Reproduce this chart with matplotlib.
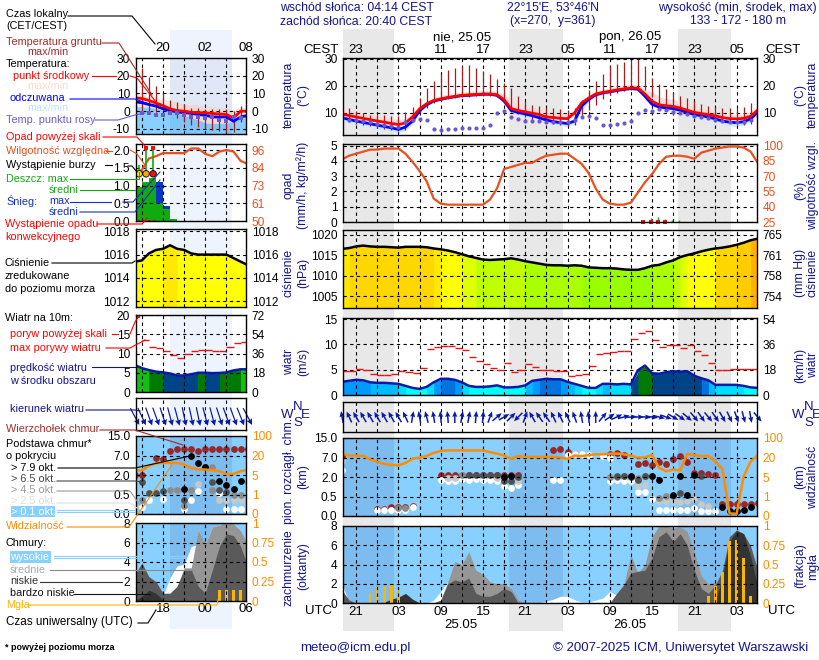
import numpy as np
import matplotlib
matplotlib.use('Agg')
import matplotlib.pyplot as plt
from matplotlib.lines import Line2D
from matplotlib.patches import Rectangle

plt.rcParams['font.family'] = ['Liberation Sans', 'DejaVu Sans']
plt.rcParams['font.size'] = 9

# hours UTC counted from 25.05 00:00
hours = list(range(-5, 55))
temp = [9.6,9,8.5,8,7.5,7,6.6,6.1,5.7,6.3,8.5,11.5,13.4,14.6,15.2,15.7,16.1,16.5,16.7,16.8,17,17,16.7,14.9,11.6,10.9,10.4,9.9,9.4,8.5,
        8.3,8,7.9,10,13.7,15.5,17,17.6,18,18.5,18.9,19.2,19.2,17,14.3,13,12.7,12.4,11.8,11,10.2,9.8,9.3,8.9,8.3,7.9,7.8,8,8.8,11]
appar = [8.2,7.6,7,6.5,6,5.5,5,4.5,3.9,4.8,7,10.8,13,14.4,15,15.6,16,16.4,16.5,16.7,16.9,16.9,16.5,14.4,10.9,10.2,9.6,9,8.2,7.4,
         6.8,6.4,6.1,7,12.5,15,16.7,17.4,17.8,18.3,18.7,19,18.8,16.2,13.2,12.2,11.9,11.6,11,10.2,9.4,9,8.5,7.8,7,6.6,6.4,6.8,7.8,10.4]
temp_hi = [11.5,11,10.5,10,9.5,9,8.6,8,7.6,8,10,12.6,14.2,15.5,16.5,17,17.4,17.7,18,18,18.3,18.3,18,17,15,13.2,12.6,12,11.4,10.6,
           10.3,10,9.6,11,14.5,16.5,18,18.7,19.2,19.8,20.2,20.4,20.4,18.7,17.8,16,15.4,15,14.3,13.5,12.6,11.8,11,10.4,9.8,9.4,9.4,9.7,10.5,12.5]
appar_lo = [6.8,6.2,5.6,5.1,4.6,4.1,3.6,3.1,2.5,3.4,6,10,12.5,14,14.8,15.3,15.7,16.1,16.2,16.4,16.6,16.6,16.2,13.5,10,9.4,8.6,8,7.2,6.4,
            5.8,5.4,5,5.8,11,14,16,16.8,17.2,17.7,18.2,18.5,18.2,15,12.5,11.4,11,10.6,9.8,8.8,8.2,7.6,7.2,6.6,5.8,5.2,5,5.5,6.8,9.6]
dew = [8,7.5,7.5,7,6.5,6,5.5,5,4.8,6.5,7.3,7.6,7.5,4.2,3.7,4,4.2,4.4,4.5,4.5,4.6,5.6,10,10.7,8.5,7.6,7,6.9,6.9,6.7,
       6.7,6.5,6.5,7.3,8.5,9,8.2,5.7,5.6,5.8,6.2,7.2,9.8,11,10.7,11.6,11,10.5,10,9.5,9,8.5,8,7.5,7,6.8,6.5,6.8,7.5,9]
ground_max = [11,12,10.6,10,9.4,9.2,9.1,8.9,8.8,10.4,12.2,15.5,19.1,21.8,24.4,25.9,26.7,27.3,27.7,26.5,25.6,24.3,22.4,21,19.1,16.3,14.3,13,12.7,12,
              12,11.5,11.2,12,14.9,18.5,21.8,24.4,27.3,28,29,29.5,29.8,27.5,22.8,20.7,18.9,17.3,16.3,15.5,14.5,13.4,12.7,12.2,11.8,11.8,11.8,12.2,13.7,11]
ground_min = [7,6.5,6,5.5,5,4.5,4,3.7,3.5,3.8,6.5,10,12,13.5,14.5,15,15.5,15.8,16,16.2,16.4,16.4,16,14,10.5,9.5,8.5,7.5,7,6.3,
              6,5.5,5,5.5,8,11,13,15,16.5,17.5,18,18.5,18.7,18.5,16,13,12,11.7,11.3,10.8,10,9,8.5,8,7,6.5,5.8,5.5,6,7.5]
humidity = [86.5,90,92,94,96,96,97,97,97,92,84,75,65,48,43,42,42,42,42,42,42,47,58,77,79,81,83,83,87,90,
            91,92,92,87,82,73,58,47,43,42,42,44,54,64,72,82,89,90,90,89,87,93,95,97,98,99,99,98,94,83]
pressure = [1016.5,1016.7,1017.1,1017.3,1017.1,1017,1017,1016.9,1016.8,1017,1017,1017,1016.9,1016.6,1016.4,1016.1,1015.7,1015.2,1014.7,1014.3,1013.9,1013.8,1013.9,1014,1014.2,1013.9,1013.5,1013.2,1012.9,1012.6,
            1012.5,1012.5,1012.4,1012.5,1012.4,1012,1011.9,1011.8,1011.8,1011.7,1011.5,1011.4,1011.4,1011.8,1012.4,1012.6,1013.2,1013.7,1014.5,1015,1015.4,1015.9,1016.3,1016.6,1016.8,1017.1,1017.5,1018,1018.6,1019]
wind = [2.6,2.8,3,2.9,2.5,2.4,2.4,2.3,2.2,1.8,1.4,1.2,1.6,2.5,3.2,3.2,3,2.5,1.8,1.6,1.6,1.7,1.9,1.5,1.5,1.6,1.9,2.8,3,3.2,
        3.1,3.1,2.6,2.2,1.8,1.4,1.4,2.2,2.2,2.1,2.2,2.1,4.9,5.8,4.3,4.2,4.5,4.7,4.6,4.7,3.8,3.3,2.9,2,2,2,2,1.8,1.5,1.4]
gust = [4.7,4.8,5.1,4.9,4.1,3.9,3.9,4.1,4.7,4.6,4.3,5.3,9.1,9.4,9.6,9.6,9.2,8.8,7.6,6.8,6.1,5.3,4.9,6.4,4.5,4.9,6.1,5.5,5,4.9,
        4.7,4.7,3.75,3.9,4.1,5.7,8,8.3,8.5,8.75,8.75,11,12.2,12.6,10.8,9.4,9.8,9.8,9.2,9.8,8.75,7.8,6.4,4.9,5,5.1,5.2,5.1,5.1,5.1]
wind_dir = [100,115,120,120,120,120,120,120,120,115,80,100,105,100,95,95,90,80,80,85,85,70,40,30,45,225,70,120,125,125,
            115,115,115,110,100,95,90,50,35,25,15,5,0,-5,-8,-15,-20,-30,-35,-40,-50,-55,-50,-55,-60,-65,-70,-75,-80,-50]
visibility = [36,28,28,26,18.5,16.7,15,14.3,14,15.8,19,20,26,39,47,49,49,49,49,49,49,42,36,28,19,26,22,22,22,22,
              22,20,19,28,26,30,33,33,36,36,33,28,20,20,31,12,9.4,10.7,10,35,30,26,26,17,11,.14,.1,5.5,17,28]
cloud_high = [2,0,0,0,0,0,0,0,0,0,0,0,0,.3,1.2,2.2,2.2,2,1.5,.8,.5,.5,.5,.5,.3,.1,0,0,0,.2,
              .4,.7,.7,.35,.1,.1,.3,.5,1.2,.8,0,0,0,0,0,0,.3,.5,.5,.3,.1,0,0,0,0,0,0,0,0,0]
cloud_mid = [1.4,0,0,0,0,0,0,0,0,0,0,0,0,0,.3,2.2,4.3,4,5.3,3.4,3,2.2,2,2,1.5,.3,0,0,0,0,
             0,0,0,0,0,0,0,0,0,1,1.9,5,3.1,4,6.9,8,8,7.8,7.9,7.4,5.2,2.8,2,2.2,0,0,0,0,0,0]
cloud_low = [1.3,.3,0,0,0,0,0,0,0,0,0,0,0,0,.3,2,2.4,2.2,2.6,1,.7,.7,1,1.5,1.2,0,0,0,0,0,
             0,0,0,0,0,0,0,0,0,1,1.9,3.1,3.3,3.4,4.7,6.9,7.4,6.4,7.2,6,3.4,1.5,1,1.9,3.4,6.9,7.6,7.2,5.9,3.4]
cloud_vlow = [0,0,0,0,0,0,.1,.4,.6,1,.4,0,0,0,0,0,0,0,0,0,0,0,0,0,0,0,0,0,0,0,
              0,0,0,0,0,0,0,0,0,0,0,0,0,0,0,0,0,0,0,0,0,0,0,0,2.8,6.4,7.5,7.2,4.8,1.7]
fog_hours = [-1,0,1,2,3,47,48,49,50,51,52,53]
fog = [.125,.21,.22,.24,.19,.086,.22,.4,.8,.82,.58,.086]

# cloud bases per layer (km), hour lists go with them
tops_h = [-5,0,1,2,3,4,5,9,10,11,12,13,14,15,16,17,18,19,20,25,26,27,28,33,34,35,37,38,39,40,41,42,43,44,45,46,47,48,49,50,51,52,53,54]
tops_km = [7.5,.17,.17,.22,.24,.24,.26,2.4,2.4,2.4,2.4,2.4,2.4,2.4,2.4,2.4,2.4,2.4,2.4,10,10.3,9.2,8.6,8.6,9,8,5.4,5.6,5.1,5.9,5.4,6.5,7.5,5.9,3,2.9,2.8,2.6,.31,.31,.31,.31,.31,.34]
white_h = [-5,0,1,2,3,4,5,9,10,11,12,13,14,15,16,17,18,19,20,25,26,27,28,29,30,32,33,33,34,35,36,37,38,39,40,41,42,43,44,45,46,47,48]
white_km = [3.9,.16,.16,.16,.16,.16,.22,1.79,1.66,1.66,1.85,1.79,1.85,1.79,1.79,1.66,1.28,1.15,1.4,1.79,1.79,8,8.3,8.6,8.2,7.5,7,1.66,1.79,1.66,1.66,.86,.86,.43,.16,.16,.16,.16,.16,.2,.14,.14,.13]
lgray_h = [-5,10,11,17,20,37,38,40,41,42,43,44,45,46,47]
lgray_km = [6,1.92,1.92,1.92,1.66,1.28,1.4,.39,.39,.39,.35,.39,.43,.31,.26]
gray_h = [3,4,12,37,38,40,41,42,33,34,35,44]
gray_km = [.2,.2,2.4,1.9,2.3,.45,.55,.55,2,2.1,2.2,.6]
dark_h = [13,14,15,16,17,18,19,20,34,35,36,37,38,43,46]
dark_km = [2.4,2.4,2.4,2.4,2.4,1.66,1.66,2,2.2,2.2,2.1,1.79,2.2,.8,2.3]
black_h = [18,19,36,39,40,42,43,44,45,49,50,51,52,53]
black_km = [2,2.15,2.2,2.15,1.79,.63,2.15,.6,2.4,.24,.14,.14,.15,.24]

# short panel on the left, hours before 25.05 00:00 are the day before... same counting
hours_l = list(range(-10, 7))
temp_l = [7.5,7.1,6,4.5,3.1,1.2,.3,-.1,-.7,-.9,-1,-1.4,-1.6,-2,-3.9,-.1,-.1]
appar_l = [5.2,4.7,3.7,2.8,1.4,.3,-.5,-1,-1.3,-2,-2.4,-3.3,-3.4,-3.3,-5.8,-3.4,-2.4]
hi_l = [10,9.5,8.5,7.5,6.6,5.8,5,4.3,3.7,3.3,2.8,2.4,2,1.6,1,1.8,2.5]
blue_top_l = [2.8,2.5,2.2,1.6,1,0,-1,-2.5,-3.8,-5,-6.8,-7,-7,-6.8,-6,-3.8,-2]
dew_l = [-1,-1,-1,-2.4,-2.4,-1,-1,-2.4,-3.3,-3.3,-3.8,-3.4,-4.8,-5.4,-3.4,-4.2,-4]
stem_h_l = list(range(-9, 6))
gmax_l = [24.3,19.3,14.2,10.4,6,5,3.7,1.8,1.5,1.3,1.3,1.3,.9,0,3]
gmin_l = [-1,-1,-.5,-.1,-1.3,-4,-6,-7.8,-8.8,-10,-10.5,-11.5,-12.5,-12,-6]
humidity_l = [80.7,83,90.5,92,94,94,94,94,97,97,93.5,92,95,96,95,89,87]
rain_h_l = [-10,-9,-8,-7,-6,-5]
rain_l = [.95,1.1,1.2,.5,.33,.05]
snow_l = [0,0,0,1.1,.43,0]
storm_t_l = [-9.4,-8.4,-7.4]
storm_col = ['#ffee00','#ffa500','#ee1111']
storm_max_l = [1.57,2.05,2.05]
pressure_l = [1015.4,1015.5,1016.1,1016.4,1016.5,1016.8,1016.5,1016.4,1016.1,1016,1016,1016,1016,1016,1015.7,1015.4,1015.1]
wind_l = [7,6.2,5.7,5.3,5.1,4.8,4.3,4.3,4.6,5,5,4.9,4.95,5.1,5.6,5.9,5.9]
gust_h_l = list(range(-9, 6))
gust_l = [13.5,11.7,11.5,10.6,9.65,8.8,9.8,10.7,10.9,10.9,10.6,10.6,11.7,12.8,13]
dir_l = [-62,-65,-70,-70,-72,-75,-75,-78,-78,-78,-75,-75,-72,-70,-70,-68,-62]
visibility_l = [8.6,8.6,12,14,14.3,14.3,14.3,13,10.4,9.2,9.2,8.6,7.9,5.8,5.8,7.9,9]
high_l = [0,0,0,0,.5,2.4,3.6,3.8,5.6,5.8,5.8,7.6,7.8,7.9,6.7,5.6,5.4]
mid_l = [0,0,0,0,0,.8,1.5,3.4,3.4,7.2,5.8,7.6,7.8,8,7.9,7.2,5.8]
low_l = [2.7,3.9,2.5,2,.8,.8,1.5,3.2,3.2,1.5,.8,3.2,5.6,6.9,6.7,5.6,3.6]
vlow_l = [0,.5,1.1,.8,.1,0,0,0,0,0,0,0,0,0,0,0,0]
fog_h_l = [2,3,4,5]
fog_l = [.146,.146,.146,.146]
tops_h_l = [-10,-9,-7,-6,-5,-4,-3,-2,-1,0,1,2,3,4,5,6]
tops_km_l = [2,2,6.4,6,8.8,9.7,9.7,9.7,8.8,9.7,9.7,9.7,9.7,9.7,9.7,9.7]
white_h_l = [-9,-8,-6,-3,-2,-1,2,3,4,5]
white_km_l = [.19,.35,.38,.12,.35,.75,.65,.13,.13,.13]
lgray_h_l = [-10,-1,2,3,4,5]
lgray_km_l = [.2,1.3,.35,.35,.35,.35]
gray_h_l = [-9,-5,-4,-3,-2,0,1,1,4,5,6]
gray_km_l = [.35,.85,.85,.2,.85,4,4,.85,.5,.5,1.5]
dark_h_l = [-9,-8,-7,-6,-3,1,2,3]
dark_km_l = [1.5,.65,.65,.75,.35,1.5,.85,.7]
black_h_l = [-3,-2,-1,0,2,3,4,5]
black_km_l = [.9,7,4.95,4,1.55,1.25,.9,1.55]

local_labels = ['23','05','11','17','23','05','11','17','23','05']
utc_labels = ['21','03','09','15','21','03','09','15','21','03']
label_hours = [-3,3,9,15,21,27,33,39,45,51]

NAVY = '#14148c'
ORANGE = '#ff8c00'
HUM = '#e8501e'
SKY = '#87d0ff'
SKY_DARK = '#7cbcee'
XLIM_M = (-4.87, 53.9)
XLIM_L = (-9.9, 5.77)
NIGHTS = [(-4.87, 2.37), (18.68, 26.34), (42.65, 50.17)]
BAND_L = (-5, 3.8)

fig = plt.figure(figsize=(8.2, 6.6), dpi=100)
W, H = 820.0, 660.0


def T(x, y, s, color='black', ha='left', size=7.8, rot=0, **kw):
    fig.text(x / W, 1 - y / H, s, color=color, ha=ha, va='center', fontsize=size, rotation=rot, **kw)


def L(xs, ys, color='black', lw=0.8):
    fig.add_artist(Line2D([x / W for x in xs], [1 - y / H for y in ys], color=color, lw=lw))


def R(x0, y0, x1, y1, color, z=-5):
    fig.add_artist(Rectangle((x0 / W, 1 - y1 / H), (x1 - x0) / W, (y1 - y0) / H, color=color, lw=0, zorder=z))


def panel(x0, y0, x1, y1, xlim, ylim, yticks, ylabels, rlabels, rcolor='black', gridx=None):
    ax = fig.add_axes([x0 / W, 1 - y1 / H, (x1 - x0) / W, (y1 - y0) / H])
    ax.patch.set_alpha(0)
    ax.set_xlim(xlim)
    ax.set_ylim(ylim)
    ax.set_xticks(gridx)
    ax.set_xticklabels([])
    ax.set_yticks(yticks)
    ax.set_yticklabels(ylabels)
    ax.tick_params(length=0, pad=4, labelsize=8.6)
    ax.grid(True, color='black', lw=0.8, ls=(0, (3, 3)))
    ax.set_axisbelow(False)
    for s in ax.spines.values():
        s.set_linewidth(1.0)
        s.set_zorder(6)
    ax2 = ax.twinx()
    ax2.set_ylim(ylim)
    ax2.set_yticks(yticks)
    ax2.set_yticklabels(rlabels, color=rcolor)
    ax2.tick_params(length=0, pad=4, labelsize=8.6)
    for s in ax2.spines.values():
        s.set_visible(False)
    return ax


def seg_fill(ax, t, v, colfn, base):
    # each hour gets its own colour, the small overlap closes pixel gaps
    for i in range(len(t) - 1):
        ax.fill_between([t[i], t[i + 1] + 0.2], [v[i], v[i + 1]], base, color=colfn((v[i] + v[i + 1]) / 2), lw=0, zorder=1, antialiased=False)


def press_color(p):
    for lim, c in [(1012.4, '#99ff00'), (1013.5, '#aaff00'), (1014.5, '#c0ff00'), (1015.0, '#e0ff00'),
                   (1016.5, '#ffff00'), (1016.7, '#ffe900'), (1017.5, '#ffd700'), (1018.5, '#ffcc00')]:
        if p < lim:
            return c
    return '#ffb000'


def wind_color(v):
    for lim, c in [(1.8, '#00ffff'), (2.2, '#00ddff'), (2.7, '#00bbff'), (3.0, '#0099ff'), (3.5, '#0073e0'),
                   (5.0, '#004488'), (5.9, '#007a00')]:
        if v < lim:
            return c
    return '#11c011'


def km_pos(v):
    return np.interp(v, [0, .5, 2, 7, 15], [0, 1, 2, 3, 4])


def vis_pos(v):
    return np.interp(v, [0, 1, 5, 20, 100], [0, 1, 2, 3, 4])


def draw_temp(ax, t, mid, ap, stem_t, smin, smax):
    ax.vlines(stem_t, smin, smax, color='#a81c1c', lw=0.9, zorder=2.6)
    ax.plot(t, ap, color='#0000ff', lw=2.0, zorder=3)
    ax.plot(t, mid, color='#ff0000', lw=2.0, zorder=3.2)


def draw_clouds(ax, t, high, mid, low, vlow):
    ax.fill_between(t, high, 0, color='white', lw=0, zorder=1.1)
    ax.fill_between(t, mid, 0, color='#969696', lw=0, zorder=1.2)
    ax.fill_between(t, low, 0, color='#5a5a5a', lw=0, zorder=1.3)
    ax.fill_between(t, vlow, 0, color='#333333', lw=0, zorder=1.4)


def draw_bases(ax, layers):
    for h, km, c, z in layers:
        ax.scatter(h, km_pos(km), s=24, color=c, lw=0, zorder=z, clip_on=True)


# page backgrounds
for a, b in NIGHTS:
    R(377.3 + 7.05 * a, 29, 377.3 + 7.05 * b, 631, '#e8e8e8')
R(205.3 + 7.05 * BAND_L[0], 30, 205.3 + 7.05 * BAND_L[1], 629, '#eef4fd')

gx_m = list(range(-3, 54, 3))
gx_l = list(range(-9, 6, 3))
t_m = np.array(hours)
t_l = np.array(hours_l)

# --- main column ---
ax = panel(343, 57.5, 757, 135, XLIM_M, (1.85, 30.5), [10, 20, 30], ['10', '20', '30'], ['10', '20', '30'], gridx=gx_m)
ax.fill_between(t_m, temp_hi, temp, color='#ffdcdc', lw=0, zorder=1)
ax.fill_between(t_m, appar, appar_lo, color='#cfeafc', lw=0, zorder=1)
draw_temp(ax, t_m, temp, appar, t_m, ground_min, ground_max)
ax.plot(t_m, dew, ls='', marker='o', ms=3, color='#6a5acd', mew=0, zorder=3.4)
for h, s in zip(label_hours, local_labels):
    ax.text(h, 1.02, s, transform=ax.get_xaxis_transform(), ha='center', va='bottom', fontsize=9.5)

ax = panel(343, 144, 757, 222, XLIM_M, (0, 5.1), [0, 1, 2, 3, 4, 5], list('012345'),
           ['25', '40', '55', '70', '85', '100'], rcolor=HUM, gridx=gx_m)
ax.plot(t_m, (np.array(humidity) - 25) / 15, color=HUM, lw=1.6, zorder=3)
ax.vlines([38.8, 39.8, 40.8, 41.8, 42.8], 0, [.25, .35, .2, .1, .1], color='#11aa11', lw=1, zorder=3)
ax.plot([37.7, 38.8, 39.8, 40.8], [.03, .03, .03, .03], ls='', marker='s', ms=3.2, color='#ee1111', mew=0, zorder=4, clip_on=False)

ax = panel(343, 230, 757, 308, XLIM_M, (1002.1, 1021.1), [1005, 1010, 1015, 1020], ['1005', '1010', '1015', '1020'],
           ['754', '758', '761', '765'], gridx=gx_m)
seg_fill(ax, t_m, pressure, press_color, 1000)
ax.plot(t_m, pressure, color='black', lw=1.8, zorder=3)

ax = panel(343, 318, 757, 395, XLIM_M, (0, 15.2), [0, 5, 10, 15], ['0', '5', '10', '15'], ['0', '18', '36', '54'], gridx=gx_m)
seg_fill(ax, t_m, wind, wind_color, 0)
ax.plot(t_m, wind, color='#0a1aa8', lw=1.8, zorder=3)
ax.hlines(gust, t_m, t_m + 1, color='#ee1111', lw=1, zorder=3)

ax = panel(343, 402, 757, 432, XLIM_M, (0, 1), [], [], [], gridx=gx_m)
rad = np.deg2rad(wind_dir)
ax.quiver(t_m, np.full(60, .5), 12 * np.cos(rad), 12 * np.sin(rad), angles='uv', scale_units='dots', scale=1, units='dots',
          width=1.5, headwidth=3.5, headlength=4, headaxislength=3.5, pivot='mid', color='#0a1aa8', zorder=4, clip_on=False)

ax = panel(343, 438, 757, 516, XLIM_M, (0, 4), [0, 1, 2, 3, 4], ['0.0', '0.5', '2.0', '7.0', '15.0'],
           ['0', '1', '5', '20', '100'], rcolor=ORANGE, gridx=gx_m)
ax.set_facecolor(SKY)
ax.patch.set_alpha(1)
for a, b in NIGHTS:
    ax.axvspan(a, b, color=SKY_DARK, lw=0, zorder=0.5)
draw_bases(ax, [(tops_h, tops_km, '#982828', 1.2), (white_h, white_km, 'white', 1.3), (lgray_h, lgray_km, '#c8c8c8', 1.4),
                (gray_h, gray_km, '#8c8c8c', 1.5), (dark_h, dark_km, '#505050', 1.6), (black_h, black_km, 'black', 1.7)])
ax.plot(t_m, vis_pos(visibility), color=ORANGE, lw=1.8, zorder=3)

ax = panel(343, 526, 757, 603, XLIM_M, (0, 8), [0, 2, 4, 6, 8], list('02468'), ['0', '0.25', '0.5', '0.75', '1'], rcolor=ORANGE, gridx=gx_m)
ax.set_facecolor(SKY)
ax.patch.set_alpha(1)
for a, b in NIGHTS:
    ax.axvspan(a, b, color=SKY_DARK, lw=0, zorder=0.5)
draw_clouds(ax, t_m, cloud_high, cloud_mid, cloud_low, cloud_vlow)
ax.bar(fog_hours, np.array(fog) * 8, width=0.33, color='#ffb400', zorder=2)
for h, s in zip(label_hours, utc_labels):
    ax.text(h, -0.04, s, transform=ax.get_xaxis_transform(), ha='center', va='top', fontsize=9.5)

# --- left column ---
ax = panel(135.5, 57.5, 246, 134, XLIM_L, (-13, 30.3), [-10, 0, 10, 20, 30], ['-10', '0', '10', '20', '30'],
           ['-10', '0', '10', '20', '30'], gridx=gx_l)
ax.fill_between(t_l, hi_l, -13, color='#fde6da', lw=0, zorder=1)
ax.fill_between(t_l, blue_top_l, -13, color=SKY, lw=0, zorder=1.1)
ax.axvspan(BAND_L[0], BAND_L[1], color='#2a3c9c', alpha=0.07, lw=0, zorder=1.2)
draw_temp(ax, t_l, temp_l, appar_l, stem_h_l, gmin_l, gmax_l)
ax.plot(t_l, dew_l, ls='', marker='s', ms=3.2, color='#6a5acd', mew=0, zorder=3.4)
for h, s in zip([-6, 0, 6], ['20', '02', '08']):
    ax.text(min(h, 5.77), 1.04, s, transform=ax.get_xaxis_transform(), ha='center', va='bottom', fontsize=9.5)

ax = panel(135.5, 144, 246, 221, XLIM_L, (0, 2.17), [0, .5, 1, 1.5, 2], ['0.0', '0.5', '1.0', '1.5', '2.0'],
           ['50', '61', '73', '84', '96'], rcolor=HUM, gridx=gx_l)
ax.bar(rain_h_l, snow_l, width=1, align='edge', color='#0a35c8', zorder=1)
ax.bar(rain_h_l, rain_l, width=1, align='edge', color='#11aa11', zorder=1.1)
ax.plot(t_l, (np.array(humidity_l) - 50) / 23, color=HUM, lw=1.6, zorder=3)
ax.vlines(storm_t_l, 1.33, storm_max_l, color='#11aa11', lw=1.2, zorder=3)
ax.scatter(storm_t_l, [1.33, 1.33, 1.33], s=22, c=storm_col, edgecolors='black', linewidths=0.6, zorder=4)
ax.plot(storm_t_l[1:], storm_max_l[1:], ls='', marker='s', ms=3.4, color='#ee1111', mew=0, zorder=4)
ax.hlines(0.03, -9.9, -7, color='#ee1111', lw=1, ls=(0, (2, 2)), zorder=4)

ax = panel(135.5, 229, 246, 307, XLIM_L, (1011.5, 1018.2), [1012, 1014, 1016, 1018], ['1012', '1014', '1016', '1018'],
           ['1012', '1014', '1016', '1018'], gridx=gx_l)
seg_fill(ax, t_l, pressure_l, press_color, 1010)
ax.plot(t_l, pressure_l, color='black', lw=1.8, zorder=3)

ax = panel(135.5, 315, 246, 392, XLIM_L, (0, 20), [0, 5, 10, 15, 20], ['0', '5', '10', '15', '20'],
           ['0', '18', '36', '54', '72'], gridx=gx_l)
seg_fill(ax, t_l, wind_l, wind_color, 0)
ax.plot(t_l, wind_l, color='#0a1aa8', lw=1.8, zorder=3)
ax.hlines(gust_l, gust_h_l, np.array(gust_h_l) + 1, color='#ee1111', lw=1, zorder=3)
ax.plot([-9.6], [19.7], ls='', marker='s', ms=3, color='#ee1111', mew=0, zorder=4)

ax = panel(135.5, 398, 246, 430, XLIM_L, (0, 1), [], [], [], gridx=gx_l)
rad = np.deg2rad(dir_l)
ax.quiver(t_l, np.full(17, .42), 19 * np.cos(rad), 19 * np.sin(rad), angles='uv', scale_units='dots', scale=1, units='dots',
          width=1.2, headwidth=5, headlength=5, headaxislength=4.5, pivot='mid', color='#0a1aa8', zorder=4, clip_on=False)

ax = panel(135.5, 436, 246, 514, XLIM_L, (0, 4), [0, 1, 2, 3, 4], ['0.0', '0.5', '2.0', '7.0', '15.0'],
           ['0', '1', '5', '20', '100'], rcolor=ORANGE, gridx=gx_l)
ax.set_facecolor(SKY)
ax.patch.set_alpha(1)
ax.axvspan(BAND_L[0], BAND_L[1], color=SKY_DARK, lw=0, zorder=0.5)
draw_bases(ax, [(tops_h_l, tops_km_l, '#982828', 1.2), (white_h_l, white_km_l, 'white', 1.3), (lgray_h_l, lgray_km_l, '#c8c8c8', 1.4),
                (gray_h_l, gray_km_l, '#8c8c8c', 1.5), (dark_h_l, dark_km_l, '#505050', 1.6), (black_h_l, black_km_l, 'black', 1.7)])
ax.plot(t_l, vis_pos(visibility_l), color=ORANGE, lw=1.8, zorder=3)

ax = panel(135.5, 523, 246, 601, XLIM_L, (0, 8), [0, 2, 4, 6, 8], list('02468'), ['0', '0.25', '0.5', '0.75', '1'], rcolor=ORANGE, gridx=gx_l)
ax.set_facecolor(SKY)
ax.patch.set_alpha(1)
ax.axvspan(BAND_L[0], BAND_L[1], color=SKY_DARK, lw=0, zorder=0.5)
draw_clouds(ax, t_l, high_l, mid_l, low_l, vlow_l)
ax.bar(fog_h_l, np.array(fog_l) * 8, width=0.33, color='#ffb400', zorder=2)
for h, s in zip([-6, 0, 5.77], ['18', '00', '06']):
    ax.text(h, -0.03, s, transform=ax.get_xaxis_transform(), ha='center', va='top', fontsize=9.5)

# --- texts around main column ---
HEAD = 8.8
T(280, 8, 'wschód słońca: 04:14 CEST', NAVY, size=HEAD)
T(280, 22, 'zachód słońca: 20:40 CEST', NAVY, size=HEAD)
T(553, 8, "22°15'E, 53°46'N", NAVY, ha='center', size=HEAD)
T(553, 21, '(x=270,  y=361)', NAVY, ha='center', size=HEAD)
T(817, 8, 'wysokość (min, środek, max)', NAVY, ha='right', size=HEAD)
T(738, 21, '133 - 172 - 180 m', NAVY, ha='center', size=HEAD)
T(462, 37, 'nie, 25.05', ha='center', size=9.5)
T(630, 37, 'pon, 26.05', ha='center', size=9.5)
T(321, 50, 'CEST', ha='center', size=9.5)
T(783, 50, 'CEST', ha='center', size=9.5)
T(319, 611, 'UTC', ha='center', size=9.5)
T(782, 611, 'UTC', ha='center', size=9.5)
T(461, 625, '25.05', ha='center', size=9.5)
T(630, 625, '26.05', ha='center', size=9.5)
T(300, 648, 'meteo@icm.edu.pl', NAVY, size=9.5)
T(553, 648, '© 2007-2025 ICM, Uniwersytet Warszawski', NAVY, size=9.5)

for x, y, s in [(289, 95, 'temperatura'), (303, 95, '(°C)'), (289, 185, 'opad'), (303, 185, '(mm/h, kg/m²/h)'),
                (289, 273, 'ciśnienie'), (303, 273, '(hPa)'), (289, 362, 'wiatr'), (303, 362, '(m/s)'),
                (289, 471, 'pion. rozciągł. chm.'), (303, 477, '(km)'), (289, 568, 'zachmurzenie'), (303, 566, '(oktanty)'),
                (813, 95, 'temperatura'), (800, 95, '(°C)'), (813, 185, 'wilgotność wzgl.'), (800, 190, '(%)'),
                (813, 273, 'ciśnienie'), (800, 273, '(mm Hg)'), (813, 365, 'wiatr'), (800, 365, '(km/h)'),
                (813, 477, 'widzialność'), (800, 477, '(km)'), (813, 566, 'mgła'), (800, 566, '(frakcja)')]:
    T(x, y, s, NAVY, ha='center', rot=90, size=8.8)

for x0 in (287, 798):
    T(x0, 415, 'W', NAVY, ha='center', size=9.5)
    T(x0 + 11, 407, 'N', NAVY, ha='center', size=9.5)
    T(x0 + 11, 423, 'S', NAVY, ha='center', size=9.5)
    T(x0 + 18, 415, 'E', NAVY, ha='center', size=9.5)

# --- legend on the left ---
RED = '#ff0000'
DRED = '#a52a2a'
GREEN = '#11aa11'
BLUE = '#1030c8'
T(6, 14, 'Czas lokalny')
T(6, 26, '(CET/CEST)')
L([68, 132, 155], [16, 16, 44])
T(6, 42, 'Temperatura gruntu', DRED)
T(27, 52, 'max/min', DRED)
L([102, 119, 152], [43, 43, 95], DRED)
T(6, 64, 'Temperatura:')
T(13, 76, 'punkt środkowy', RED)
L([92, 116], [76, 76], RED)
L([130, 137, 160], [76, 78, 107], RED)
T(27, 86, 'max/min', '#fbdcd0')
T(10, 98, 'odczuwana', '#0000ff')
L([70, 135, 165], [99, 99, 110], '#0000ff')
T(27, 108, 'max/min', '#bfe3fb')
T(6, 120, 'Temp. punktu rosy', '#6a5acd')
L([95, 118, 135, 145], [120, 120, 115, 113], '#6a5acd')
T(6, 137, 'Opad powyżej skali', RED)
L([103, 137, 146], [137, 137, 147], RED)
T(6, 151, 'Wilgotność względna', HUM)
L([106, 112], [151, 151], HUM)
L([130, 137, 145], [150, 154, 165], HUM)
T(6, 165, 'Wystąpienie burzy')
L([105, 112], [165, 165])
L([128, 132, 137], [166, 166, 172])
T(6, 179, 'Deszcz: max', GREEN)
L([70, 139, 139], [179, 179, 172], GREEN)
T(49, 190, 'średni', GREEN)
L([80, 135], [190, 190], GREEN)
T(6, 201, 'Śnieg:', BLUE)
T(49, 201, 'max', BLUE)
L([70, 111], [202, 202], BLUE)
L([123, 133, 160], [202, 202, 172], BLUE)
T(49, 212, 'średni', BLUE)
L([80, 135, 160], [212, 212, 180], BLUE)
T(5, 224, 'Wystąpienie opadu', RED)
T(5, 237, 'konwekcyjnego', RED)
L([97, 142, 147], [224, 224, 218], RED)
T(5, 263, 'Ciśnienie')
L([52, 132, 135], [263, 263, 261])
T(5, 276, 'zredukowane')
T(5, 289, 'do poziomu morza')
T(5, 318, 'Wiatr na 10m:')
T(10, 334, 'poryw powyżej skali', RED)
L([112, 118], [334, 334], RED)
L([130, 135, 139], [334, 322, 316], RED)
T(10, 348, 'max porywy wiatru', RED)
L([106, 130, 145], [348, 348, 340], RED)
T(10, 368, 'prędkość wiatru', NAVY)
L([92, 135], [367, 367], NAVY)
T(10, 381, 'w środku obszaru', NAVY)
T(10, 409, 'kierunek wiatru', NAVY)
L([86, 135, 140], [410, 410, 411], NAVY)
T(6, 429, 'Wierzchołek chmur', DRED)
L([100, 135, 183], [430, 430, 445], DRED)
T(6, 444, 'Podstawa chmur*')
T(6, 456, 'o pokryciu')
T(11, 468, '> 7.9 okt.')
L([58, 135, 190], [468, 468, 456])
T(11, 479, '> 6.5 okt.', '#444444')
L([57, 135, 143], [481, 481, 482], '#444444')
T(11, 490, '> 4.5 okt.', '#999999')
L([57, 130, 140], [491, 491, 505], '#999999')
T(11, 501, '> 2.5 okt.', '#dddddd')
L([57, 130, 137], [503, 503, 508], '#dddddd')
R(11, 506, 55, 517, SKY)
T(11, 512, '> 0.1 okt.', 'white')
L([57, 135], [510, 510], SKY)
L([57, 135], [512, 512], SKY)
T(6, 526, 'Widzialność', ORANGE)
L([67, 129, 172], [527, 527, 465], ORANGE)
T(6, 543, 'Chmury:')
R(10, 551, 51, 563, SKY)
T(10, 557, 'wysokie', 'white')
L([54, 185], [556, 556], SKY)
L([54, 185], [558, 558], SKY)
T(10, 570, 'średnie', '#aaaaaa')
L([50, 192], [570, 570], '#888888')
T(10, 581, 'niskie', '#333333')
L([40, 122], [582, 582], '#333333')
T(10, 593, 'bardzo niskie', '#111111')
L([74, 150], [594, 594], '#111111')
T(6, 605, 'Mgła', '#ffb400')
L([28, 217, 218], [605, 605, 600], '#ffb400')
T(6, 622, 'Czas uniwersalny (UTC)', size=8.4)
L([138, 148, 156], [623, 623, 610])
T(5, 647, '* powyżej poziomu morza', size=6.5, fontweight='bold')

fig.savefig('out.png', dpi=100)
